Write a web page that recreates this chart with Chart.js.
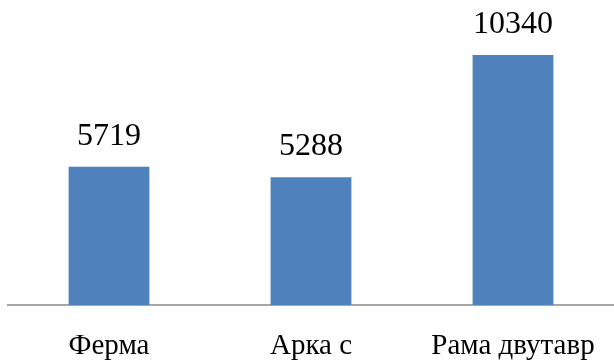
<!DOCTYPE html>
<html>
<head>
<meta charset="utf-8">
<script src="https://cdn.jsdelivr.net/npm/chart.js@4/dist/chart.umd.min.js"></script>
<style>
  html, body { margin: 0; padding: 0; background: #fff; }
  #wrap { width: 614px; height: 360px; position: relative; }
</style>
</head>
<body>
<div id="wrap"><canvas id="chart"></canvas></div>
<script>
  var CATEGORIES = ["Ферма", "Арка с", "Рама двутавр"];
  var VALUES = [5719, 5288, 10340];

  var BAR = "#4f81bd";
  var INK = "#000000";
  var SERIF = "'Liberation Serif', 'Times New Roman', serif";

  // подписи значений над столбцами
  var valueLabels = {
    id: "valueLabels",
    afterDatasetsDraw: function (chart) {
      var ctx = chart.ctx;
      var meta = chart.getDatasetMeta(0);
      ctx.save();
      ctx.font = "32px " + SERIF;
      ctx.fillStyle = INK;
      ctx.textAlign = "center";
      ctx.textBaseline = "alphabetic";
      meta.data.forEach(function (bar, i) {
        ctx.fillText(String(VALUES[i]), bar.x, bar.y - 22);
      });
      ctx.restore();
    }
  };

  new Chart(document.getElementById("chart"), {
    type: "bar",
    data: {
      labels: CATEGORIES,
      datasets: [{ data: VALUES, backgroundColor: BAR, borderWidth: 0,
        barPercentage: 0.4, categoryPercentage: 1 }]
    },
    options: {
      responsive: true, maintainAspectRatio: false, animation: false,
      layout: { padding: { left: 8, right: 0, top: 15, bottom: 0 } },
      plugins: { legend: { display: false }, tooltip: { enabled: false } },
      scales: {
        y: { display: false, min: 0, max: 12000 },
        x: {
          grid: { display: false, drawTicks: false },
          border: { display: true, color: "#a6a6a6", width: 2 },
          ticks: { color: INK, font: { family: SERIF, size: 29 }, padding: 24, maxRotation: 0 },
          afterFit: function (scale) {
            scale.height = 55;
            scale.paddingLeft = 0;
            scale.paddingRight = 0;
          }
        }
      }
    },
    plugins: [valueLabels]
  });
</script>
</body>
</html>
